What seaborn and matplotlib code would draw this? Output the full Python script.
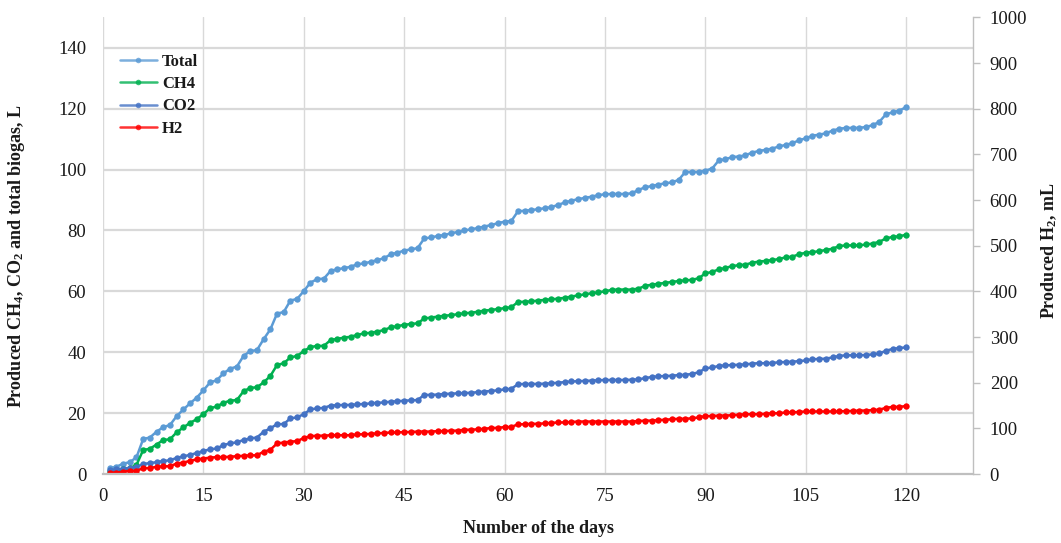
import numpy as np
import pandas as pd
import matplotlib
matplotlib.use("Agg")
import matplotlib.pyplot as plt
from matplotlib.lines import Line2D
import seaborn as sns

# ---- data -------------------------------------------------------------
days = list(range(1, 121))

total = [1.9, 2.4, 3.4, 3.9, 5.5, 11.5, 12.0, 13.9, 15.4, 16.1,
         19.0, 21.2, 23.2, 25.1, 27.5, 30.1, 30.8, 33.1, 34.6, 35.3,
         38.8, 40.4, 40.7, 44.3, 47.5, 52.7, 53.2, 57.0, 57.5, 60.1,
         62.9, 64.0, 64.2, 66.7, 67.3, 67.6, 68.1, 68.9, 69.2, 69.7,
         70.3, 70.9, 72.2, 72.7, 73.4, 73.8, 74.2, 77.4, 77.7, 78.2,
         78.5, 79.1, 79.5, 80.0, 80.4, 80.8, 81.3, 81.8, 82.4, 82.9,
         83.1, 86.3, 86.5, 86.7, 87.0, 87.3, 87.7, 88.4, 89.2, 89.8,
         90.3, 90.7, 91.1, 91.6, 91.9, 92.0, 92.0, 92.0, 92.2, 93.3,
         94.2, 94.6, 95.1, 95.5, 95.8, 96.6, 99.2, 99.2, 99.2, 99.7,
         100.3, 103.0, 103.4, 104.1, 104.3, 104.7, 105.6, 106.1, 106.5, 106.9,
         107.6, 108.1, 108.7, 109.6, 110.3, 111.1, 111.5, 111.9, 112.8, 113.4,
         113.7, 113.7, 113.7, 114.0, 114.6, 115.7, 118.2, 118.8, 119.4, 120.5]

ch4 = [1.0, 1.2, 1.6, 1.9, 3.0, 7.9, 8.3, 9.7, 11.2, 11.4,
       13.7, 15.3, 16.8, 18.0, 19.7, 21.6, 22.2, 23.4, 24.1, 24.3,
       27.2, 28.3, 28.5, 30.1, 32.2, 35.8, 36.4, 38.3, 38.8, 40.4,
       41.7, 42.1, 42.1, 44.0, 44.4, 44.8, 45.1, 45.7, 46.2, 46.4,
       46.8, 47.3, 48.2, 48.6, 49.0, 49.3, 49.5, 51.1, 51.4, 51.7,
       52.0, 52.2, 52.5, 52.8, 53.0, 53.3, 53.7, 53.9, 54.2, 54.5,
       54.8, 56.5, 56.6, 56.7, 57.0, 57.2, 57.4, 57.6, 57.9, 58.3,
       58.7, 59.0, 59.4, 59.7, 60.0, 60.5, 60.6, 60.6, 60.6, 60.9,
       61.8, 62.2, 62.5, 62.8, 63.1, 63.4, 63.6, 63.8, 64.3, 65.9,
       66.4, 67.2, 67.7, 68.3, 68.6, 68.8, 69.4, 69.8, 70.0, 70.3,
       70.6, 71.2, 71.4, 72.2, 72.7, 72.9, 73.2, 73.6, 74.0, 74.9,
       75.1, 75.1, 75.1, 75.4, 75.7, 76.3, 77.4, 77.9, 78.1, 78.6]

co2 = [1.2, 1.5, 1.8, 2.0, 2.3, 3.3, 3.6, 3.9, 4.3, 4.5,
       5.3, 5.8, 6.3, 6.9, 7.6, 8.1, 8.4, 9.5, 10.1, 10.4,
       11.2, 11.7, 12.0, 13.9, 15.0, 16.4, 16.4, 18.3, 18.6, 19.7,
       21.2, 21.6, 21.7, 22.5, 22.6, 22.7, 22.7, 22.9, 23.0, 23.2,
       23.4, 23.5, 23.8, 23.9, 24.1, 24.2, 24.3, 26.0, 26.0, 26.1,
       26.3, 26.4, 26.5, 26.6, 26.7, 26.9, 27.1, 27.3, 27.5, 27.8,
       28.0, 29.5, 29.6, 29.6, 29.6, 29.7, 29.8, 30.0, 30.2, 30.4,
       30.5, 30.6, 30.7, 30.8, 30.9, 30.9, 30.9, 30.9, 31.0, 31.1,
       31.5, 31.9, 32.1, 32.2, 32.3, 32.5, 32.6, 32.9, 33.4, 34.7,
       35.0, 35.5, 35.7, 35.8, 35.9, 36.0, 36.3, 36.4, 36.4, 36.5,
       36.7, 36.8, 36.9, 37.1, 37.3, 37.7, 37.8, 37.9, 38.3, 38.8,
       39.0, 39.0, 39.0, 39.1, 39.3, 39.6, 40.5, 41.1, 41.4, 41.6]

h2_ml = [3, 3, 5, 7, 7, 13, 13, 16, 17, 17,
         23, 25, 29, 32, 34, 36, 37, 37, 38, 39,
         40, 41, 41, 49, 53, 67, 69, 71, 72, 79,
         83, 84, 84, 85, 85, 85, 85, 87, 87, 88,
         89, 90, 91, 91, 92, 92, 93, 93, 93, 94,
         94, 95, 95, 97, 97, 98, 99, 101, 101, 103,
         103, 109, 109, 110, 110, 111, 112, 113, 113, 114,
         115, 115, 115, 115, 115, 115, 115, 115, 115, 116,
         117, 117, 118, 119, 120, 121, 121, 122, 124, 127,
         127, 128, 128, 129, 130, 131, 131, 131, 132, 133,
         133, 135, 135, 136, 137, 137, 137, 137, 137, 137,
         138, 138, 139, 139, 140, 141, 145, 147, 147, 149]

series_names = ["Total", "CH4", "CO2", "H2"]
colors = {"Total": "#5B9BD5", "CH4": "#00B050", "CO2": "#4472C4", "H2": "#FF0000"}

x_ticks = [0, 15, 30, 45, 60, 75, 90, 105, 120]
left_ticks = [0, 20, 40, 60, 80, 100, 120, 140]
right_ticks = [0, 100, 200, 300, 400, 500, 600, 700, 800, 900, 1000]

# ---- styling ----------------------------------------------------------
sns.set_theme(style="white")
plt.rcParams["font.family"] = ["Liberation Serif", "DejaVu Serif"]
plt.rcParams["mathtext.fontset"] = "custom"
plt.rcParams["mathtext.rm"] = "Liberation Serif"
plt.rcParams["mathtext.bf"] = "Liberation Serif:bold"
plt.rcParams["mathtext.default"] = "bf"

grid_c = "#D9D9D9"
spine_c = "#BFBFBF"
text_c = "#1A1A1A"

fig = plt.figure(figsize=(10.61, 5.43), dpi=100)
ax = fig.add_axes([0.0971, 0.127, 0.8200, 0.841])

left_df = pd.DataFrame({
    "day": days * 3,
    "value": total + ch4 + co2,
    "series": ["Total"] * 120 + ["CH4"] * 120 + ["CO2"] * 120,
})

line_kw = dict(linewidth=1.8, marker="o", markersize=4.6, markeredgewidth=0)

sns.lineplot(data=left_df, x="day", y="value", hue="series",
             hue_order=["Total", "CH4", "CO2"], palette=colors,
             ax=ax, legend=False, estimator=None, sort=False, **line_kw)

ax2 = ax.twinx()
h2_df = pd.DataFrame({"day": days, "h2": h2_ml})
sns.lineplot(data=h2_df, x="day", y="h2", color=colors["H2"], ax=ax2,
             legend=False, estimator=None, sort=False, **line_kw)

# axis limits and ticks
ax.set_xlim(0, 130)
ax.set_ylim(0, 150)
ax2.set_ylim(0, 1000)
ax.set_xticks(x_ticks)
ax.set_yticks(left_ticks)
ax2.set_yticks(right_ticks)

tick_fs = 13.5
ax.tick_params(axis="x", labelsize=tick_fs, colors=text_c, length=0, pad=10)
ax.tick_params(axis="y", labelsize=tick_fs, colors=text_c, length=0, pad=12)
ax2.tick_params(axis="y", labelsize=tick_fs, colors=text_c, length=5,
                width=1, direction="out", pad=7)
ax2.tick_params(axis="y", color=spine_c)

# grid: horizontal from the left axis, vertical at every x tick
ax.grid(False)
ax2.grid(False)
for v in left_ticks[1:]:
    ax.axhline(v, color=grid_c, linewidth=1.6, zorder=0)
for v in x_ticks:
    ax.axvline(v, color=grid_c, linewidth=1.0, zorder=0)
ax.set_axisbelow(True)

for a in (ax, ax2):
    for s in ("top", "left", "right", "bottom"):
        a.spines[s].set_visible(False)
ax2.spines["right"].set_visible(True)
ax2.spines["right"].set_color(spine_c)
ax2.spines["right"].set_linewidth(1.0)
ax2.spines["bottom"].set_visible(True)
ax2.spines["bottom"].set_color(spine_c)
ax2.spines["bottom"].set_linewidth(1.6)

label_fs = 13
ax.set_xlabel("Number of the days", fontsize=label_fs, fontweight="bold",
              color=text_c, labelpad=11)
ax.set_ylabel("Produced CH$_4$, CO$_2$ and total biogas, L", fontsize=label_fs,
              fontweight="bold", color=text_c)
ax2.set_ylabel("Produced H$_2$, mL", fontsize=label_fs, fontweight="bold",
               color=text_c)
ax.yaxis.set_label_coords(-0.0875, 0.478)
ax2.yaxis.set_label_coords(1.076, 0.489)

# legend
handles = [Line2D([0], [0], color=colors[n], linewidth=1.8, alpha=0.8,
                  marker="o", markersize=4, markeredgewidth=0)
           for n in series_names]
leg = ax.legend(handles, series_names, loc="upper left",
                bbox_to_anchor=(0.012, 0.935), frameon=False,
                prop={"family": "Liberation Serif", "weight": "bold", "size": 12},
                handlelength=2.2, handletextpad=0.3, labelspacing=0.38,
                borderaxespad=0)
for t in leg.get_texts():
    t.set_color(text_c)

fig.savefig("out.png", dpi=100)
